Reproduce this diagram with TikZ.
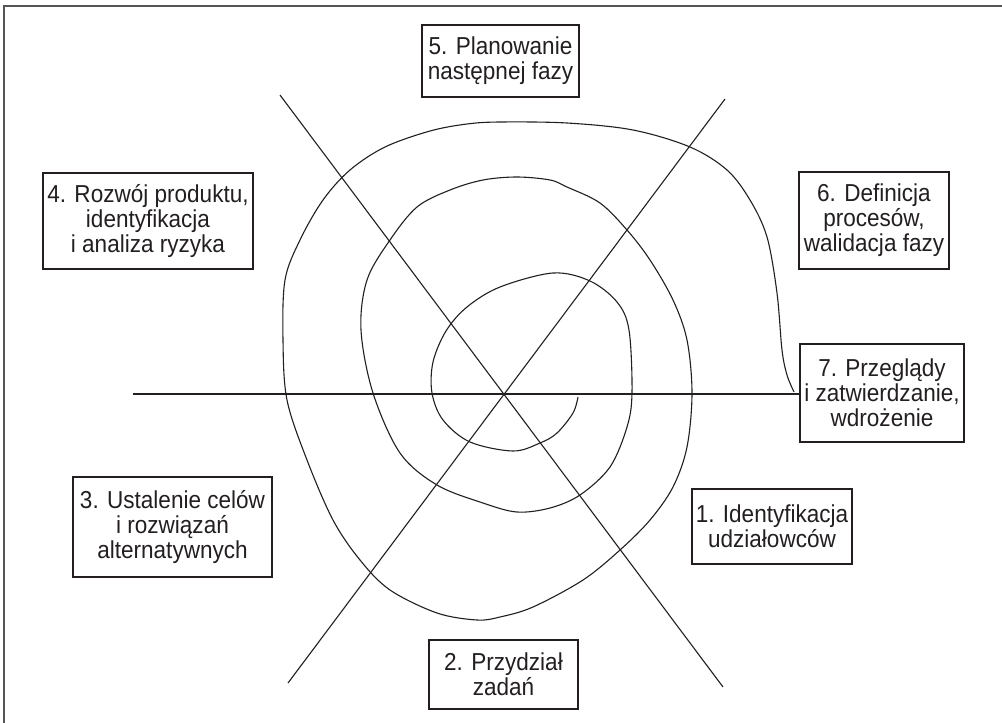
\documentclass[tikz,border=0pt]{standalone}
\usepackage{fontspec}
\setmainfont{Liberation Sans}[FakeStretch=0.92]
\definecolor{ink}{HTML}{231F20}
\definecolor{frame}{HTML}{555555}
\begin{document}
\begin{tikzpicture}[x=1pt,y=-1pt,
  phase/.style={draw=ink, line width=1.1pt, text=ink, align=center, inner sep=0pt,
    font=\fontsize{24.5}{25}\selectfont},
  axis/.style={draw=ink, line width=1.1pt},
  spiral/.style={draw=ink, line width=1.1pt}]
\useasboundingbox (0,0) rectangle (1002,723);
\fill[white] (0,0) rectangle (1002,723);
% outer frame (top and left edges)
\draw[frame, line width=2pt] (1002,6) -- (4,6) -- (4,723);

% phase boxes
\node[phase, minimum width=157pt, minimum height=72pt] (p5) at (500.5,61) {5. Planowanie\\następnej fazy};
\node[phase, minimum width=210pt, minimum height=96pt] (p4) at (148,221) {4. Rozwój produktu,\\identyfikacja\\i analiza ryzyka};
\node[phase, minimum width=150pt, minimum height=97pt] (p6) at (874,220.5) {6. Definicja\\procesów,\\walidacja fazy};
\node[phase, minimum width=164pt, minimum height=98pt] (p7) at (882,393) {7. Przeglądy\\i zatwierdzanie,\\wdrożenie};
\node[phase, minimum width=199pt, minimum height=100pt] (p3) at (172.5,527) {3. Ustalenie celów\\i rozwiązań\\alternatywnych};
\node[phase, minimum width=160pt, minimum height=75pt] (p1) at (772,526.5) {1. Identyfikacja\\udziałowców};
\node[phase, minimum width=149pt, minimum height=69pt] (p2) at (503.5,674.5) {2. Przydział\\zadań};

% axes through the centre
\coordinate (hl) at (133,394);
\coordinate (d1a) at (280,95);
\coordinate (d1b) at (723,687);
\coordinate (d2a) at (725,99);
\coordinate (d2b) at (288,683);
\draw[axis] (hl) -- (p7.west |- hl);
\draw[axis] (d1a) -- (d1b);
\draw[axis] (d2a) -- (d2b);

% spiral, from the centre outwards
\draw[spiral] plot[smooth, tension=0.55] coordinates {
 (578,397) (573,413) (557,433) (540,443) (513,451) (470,442) (443,420) (432,393)
 (433,362) (446,331) (467,307) (500,287) (553,273) (590,281) (617,302) (629,330)
 (632,393) (627,427) (610,467) (580,495) (550,508) (517,512) (483,503) (437,485)
 (400,453) (373,393) (361,330) (367,280) (390,240) (417,207) (450,190) (483,180)
 (517,177) (550,180) (567,187) (600,203) (627,230) (650,260) (673,300) (687,340)
 (692,393) (687,447) (673,487) (650,520) (620,550) (583,580) (533,607) (500,617)
 (477,620) (437,613) (390,590) (360,560) (333,520) (307,460) (287,400) (283,340)
 (285,280) (300,240) (323,200) (350,170) (385,147) (430,131) (467,124) (500,122)
 (567,123) (633,130) (690,147) (727,170) (750,200) (767,237) (777,293) (782,350)
 (787,375) (794,392)};
\end{tikzpicture}
\end{document}
